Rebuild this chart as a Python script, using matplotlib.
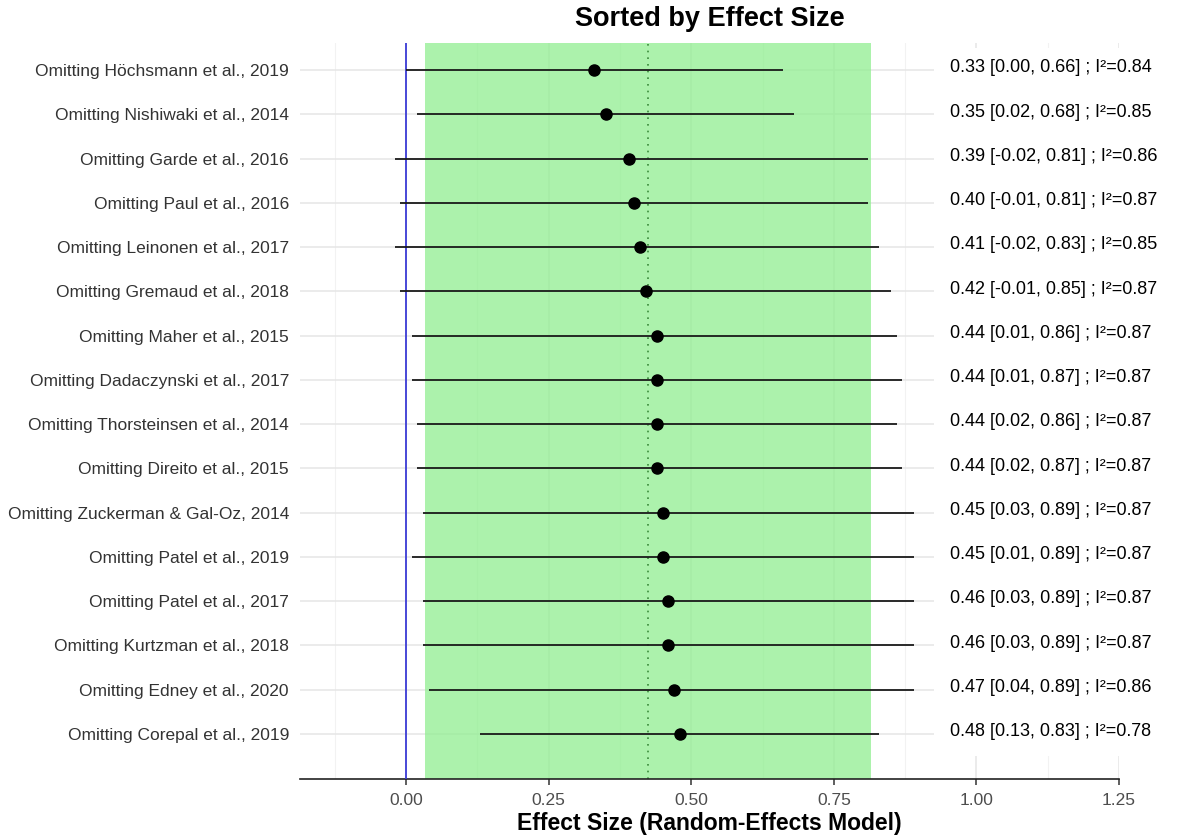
import matplotlib
matplotlib.use("Agg")
import matplotlib.pyplot as plt
from matplotlib.patches import Rectangle
from matplotlib.ticker import MultipleLocator

plt.rcParams['font.family'] = ['Liberation Sans', 'DejaVu Sans']

studies = [
    "Omitting Höchsmann et al., 2019",
    "Omitting Nishiwaki et al., 2014",
    "Omitting Garde et al., 2016",
    "Omitting Paul et al., 2016",
    "Omitting Leinonen et al., 2017",
    "Omitting Gremaud et al., 2018",
    "Omitting Maher et al., 2015",
    "Omitting Dadaczynski et al., 2017",
    "Omitting Thorsteinsen et al., 2014",
    "Omitting Direito et al., 2015",
    "Omitting Zuckerman & Gal-Oz, 2014",
    "Omitting Patel et al., 2019",
    "Omitting Patel et al., 2017",
    "Omitting Kurtzman et al., 2018",
    "Omitting Edney et al., 2020",
    "Omitting Corepal et al., 2019",
]
estimate = [0.33, 0.35, 0.39, 0.40, 0.41, 0.42, 0.44, 0.44, 0.44, 0.44, 0.45, 0.45, 0.46, 0.46, 0.47, 0.48]
ci_lower = [0.00, 0.02, -0.02, -0.01, -0.02, -0.01, 0.01, 0.01, 0.02, 0.02, 0.03, 0.01, 0.03, 0.03, 0.04, 0.13]
ci_upper = [0.66, 0.68, 0.81, 0.81, 0.83, 0.85, 0.86, 0.87, 0.86, 0.87, 0.89, 0.89, 0.89, 0.89, 0.89, 0.83]
i2 = [0.84, 0.85, 0.86, 0.87, 0.85, 0.87, 0.87, 0.87, 0.87, 0.87, 0.87, 0.87, 0.87, 0.87, 0.86, 0.78]

overall_est = 0.424
overall_lower = 0.033
overall_upper = 0.815

x_ticks = [0.00, 0.25, 0.50, 0.75, 1.00, 1.25]
x_ticklabels = ["0.00", "0.25", "0.50", "0.75", "1.00", "1.25"]

n = len(studies)
ypos = [n - i for i in range(n)]

fig = plt.figure(figsize=(11.95, 8.39), dpi=100)
ax = fig.add_axes([300/1195, 60/839, 819/1195, 736/839])
ax.set_axisbelow(True)

xmin, xmax = -0.186, 1.249
ax.set_xlim(xmin, xmax)
ax.set_ylim(-0.02, n + 0.61)

# grid
ax.xaxis.set_major_locator(MultipleLocator(0.25))
ax.xaxis.set_minor_locator(MultipleLocator(0.125))
ax.grid(which='major', axis='both', color='#e6e6e6', lw=1.1)
ax.grid(which='minor', axis='x', color='#f2f2f2', lw=0.8)

# overall band
ax.axvspan(overall_lower, overall_upper, color='#90ee90', alpha=0.75, zorder=1, lw=0)
ax.axvline(overall_est, color='#3a8a3a', ls=(0, (1, 3)), lw=1.2, zorder=2)
ax.axvline(0, color='#3b3bd6', lw=1.3, zorder=3)

# white region behind labels
ax.add_patch(Rectangle((0.926, 0.5), 0.5, n, facecolor='white', edgecolor='none', zorder=1.5))

for y, e, lo, hi, ii in zip(ypos, estimate, ci_lower, ci_upper, i2):
    ax.plot([lo, hi], [y, y], color='#1a1a1a', lw=1.3, zorder=4, solid_capstyle='butt')
    ax.plot([e], [y], 'o', color='black', ms=8, zorder=5)
    ax.text(0.953, y + 0.05, f"{e:.2f} [{lo:.2f}, {hi:.2f}] ; I²={ii:.2f}",
            ha='left', va='center', fontsize=13, color='black', zorder=6)

ax.set_yticks(ypos)
ax.set_yticklabels(studies, fontsize=12.5, color='#333333')
ax.tick_params(axis='y', length=0, pad=8)
ax.set_xticks(x_ticks)
ax.set_xticklabels(x_ticklabels, fontsize=12.5, color='#4d4d4d')
ax.tick_params(axis='x', which='major', length=4, width=1.1, color='#333333', pad=6)
ax.tick_params(axis='x', which='minor', length=0)

for s in ['top', 'right', 'left']:
    ax.spines[s].set_visible(False)
ax.spines['bottom'].set_color('#222222')
ax.spines['bottom'].set_linewidth(1.2)

ax.set_title("Sorted by Effect Size", fontsize=19.5, fontweight='bold', pad=12)
ax.set_xlabel("Effect Size (Random-Effects Model)", fontsize=16.5, fontweight='bold', labelpad=3)

fig.savefig("out.png", dpi=100, facecolor='white')
